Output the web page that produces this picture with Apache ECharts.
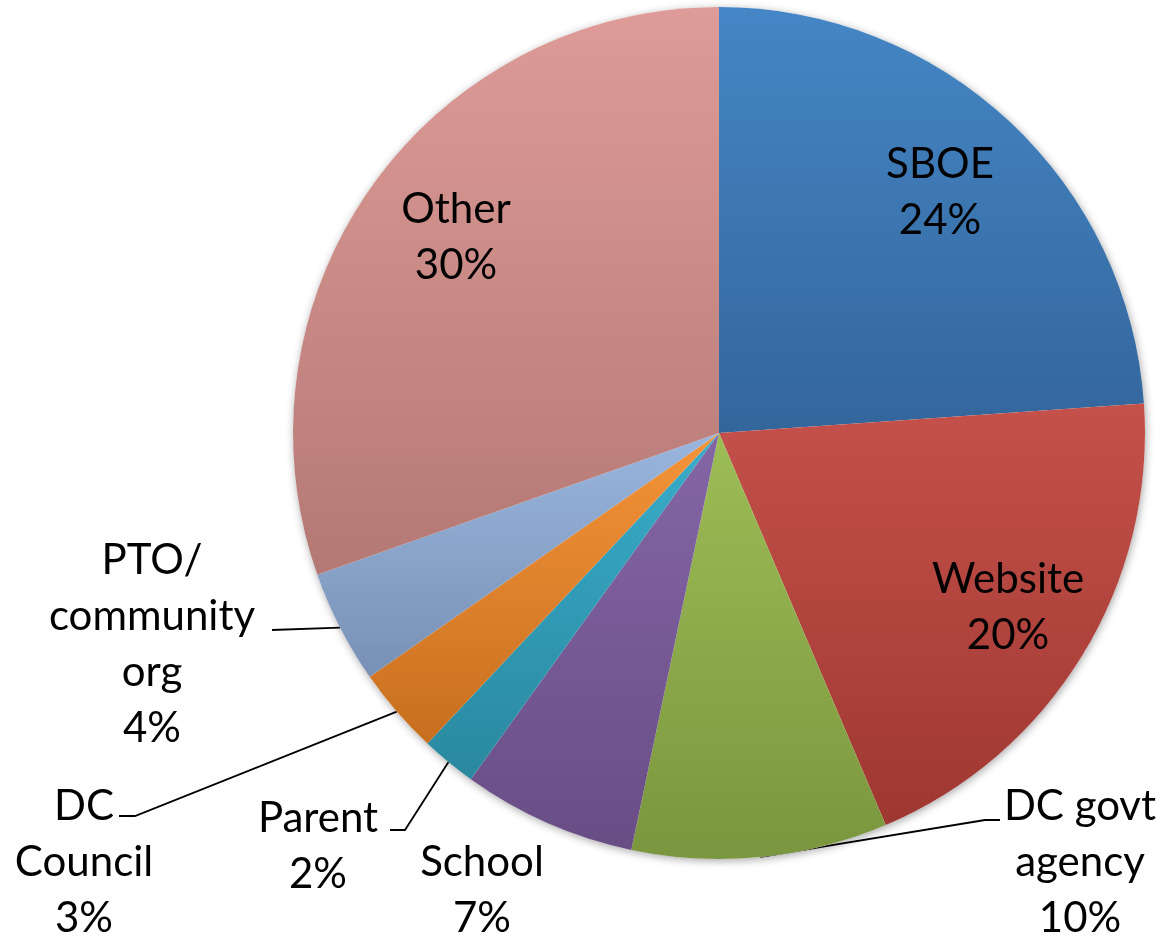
<!DOCTYPE html>
<html>
<head>
<meta charset="utf-8">
<script src="https://cdn.jsdelivr.net/npm/echarts@6/dist/echarts.min.js"></script>
<style>
  html, body { margin: 0; padding: 0; background: #fff; }
  #chart { width: 1162px; height: 940px; }
</style>
</head>
<body>
<div id="chart"></div>
<script>
// slices, clockwise from 12 o'clock
const names = ['SBOE', 'Website', 'DC govt\nagency', 'School', 'Parent', 'DC\nCouncil', 'PTO/\ncommunity\norg', 'Other']
const values = [23.9, 19.7, 9.7, 6.6, 2.1, 3.3, 4.3, 30.4]
// gradient top / bottom colours (Office 2007 look)
const topColors = ['#4586C6', '#C5514B', '#9DBD56', '#8466A6', '#39ADCA', '#F59439', '#9AB6DE', '#DE9B97']
const bottomColors = ['#33669B', '#9F3731', '#7A963E', '#684D85', '#2A889F', '#C76F1F', '#7890B4', '#B47975']

// label block centres and leader line ends (layout only)
const labelPos = [[940, 192], [1008, 607], [1080, 862], [482, 890], [318, 846], [84, 862], [152, 644], [456, 237]]
const lineEnd = [null, null, [[985, 820], [1000, 820]], null, [[405, 830], [390, 830]], [[135, 816], [119, 816]], [[272, 630]], null]
const inner = [true, true, false, false, false, false, false, true]

const chart = echarts.init(document.getElementById('chart'))

let data = []
for (let i = 0; i < names.length; i++) {
  data.push({
    name: names[i],
    value: values[i],
    itemStyle: {
      color: {
        type: 'linear', x: 0, y: 0, x2: 0, y2: 1,
        colorStops: [
          { offset: 0, color: topColors[i] },
          { offset: 1, color: bottomColors[i] },
        ],
      },
    },
    label: { position: inner[i] ? 'inside' : 'outside' },
    labelLine: { show: !inner[i] && i !== 3 },
  })
}

let option = {
  backgroundColor: '#fff',
  animation: false,
  series: [
    {
      // soft shadow under the pie
      type: 'pie',
      silent: true,
      radius: 426,
      center: [719, 433],
      label: { show: false },
      itemStyle: {
        color: '#fff',
        shadowBlur: 8,
        shadowColor: 'rgba(0,0,0,0.35)',
        shadowOffsetX: 1,
        shadowOffsetY: 2,
      },
      data: [1],
    },
    {
      type: 'pie',
      radius: 426,
      center: [719, 433],
      startAngle: 90,
      clockwise: true,
      avoidLabelOverlap: false,
      label: {
        show: true,
        color: '#000',
        fontFamily: 'Lato',
        fontSize: 42,
        lineHeight: 56,
        align: 'center',
        formatter: function (p) {
          return p.name + '\n' + Math.round(p.percent) + '%'
        },
      },
      labelLine: {
        length: 10,
        length2: 10,
        lineStyle: { color: '#000', width: 1.8 },
      },
      labelLayout: function (p) {
        const i = p.dataIndex
        let out = {
          x: labelPos[i][0],
          y: labelPos[i][1],
          align: 'center',
          verticalAlign: 'middle',
        }
        if (lineEnd[i] && p.labelLinePoints) {
          out.labelLinePoints = [p.labelLinePoints[0]].concat(lineEnd[i])
        }
        return out
      },
      data: data,
    },
  ],
}
chart.setOption(option)
window.addEventListener('resize', () => {
  chart.resize()
})
</script>
</body>
</html>
